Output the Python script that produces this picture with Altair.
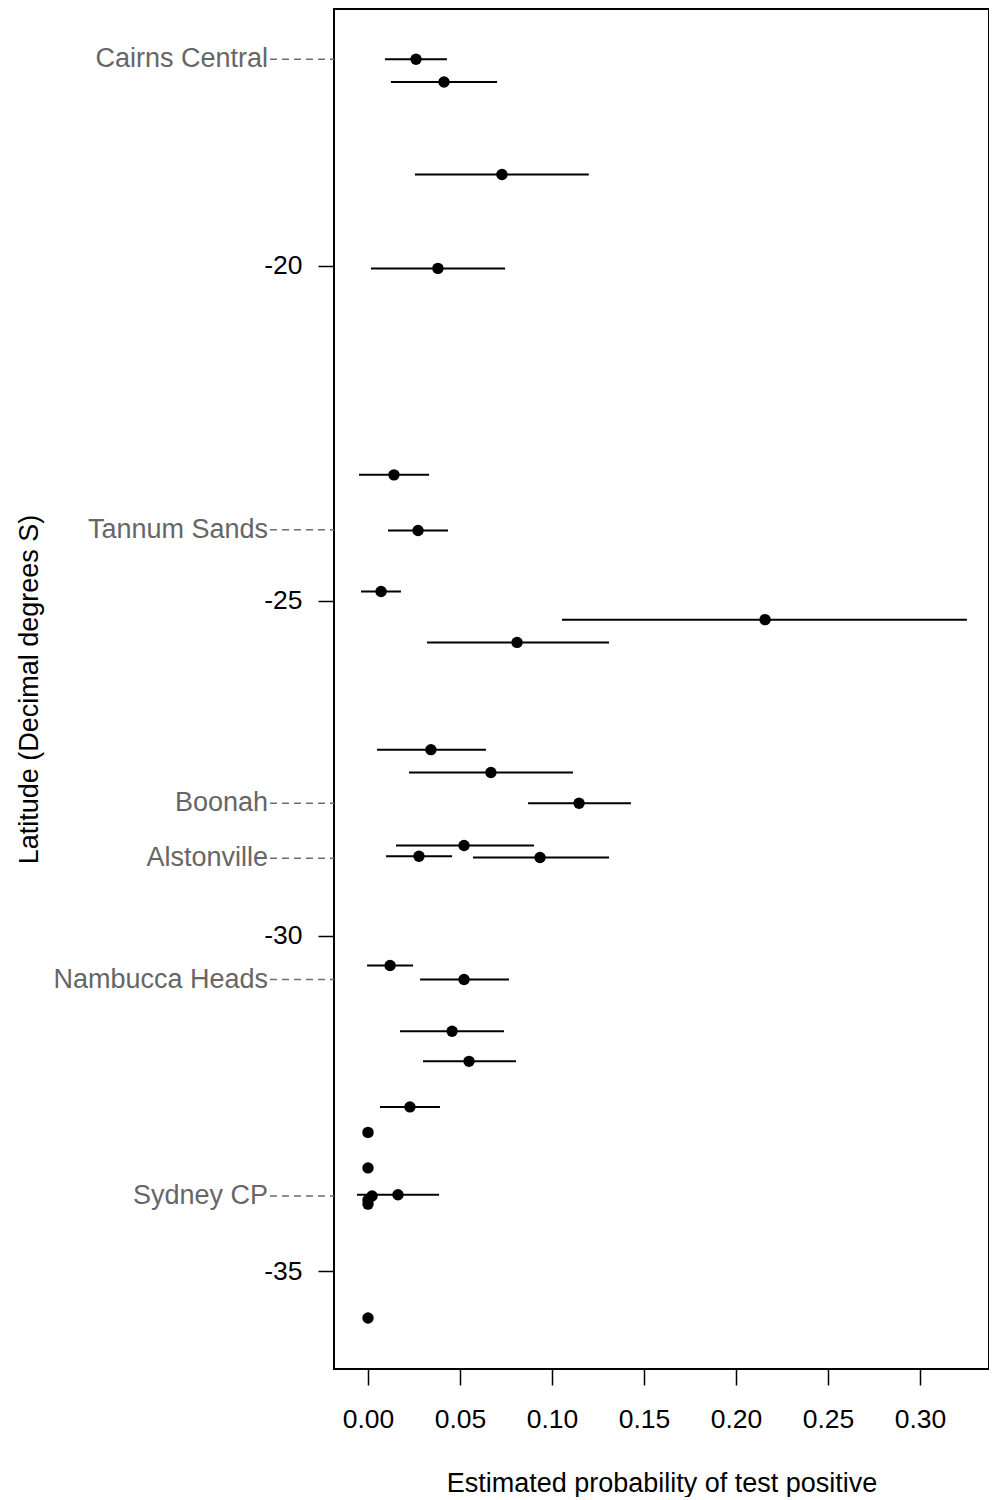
import altair as alt
import pandas as pd

# ---- data ----
lat = [-16.92, -17.26, -18.64, -20.04, -23.12, -23.95, -24.86, -25.28, -25.62,
       -27.22, -27.56, -28.02, -28.65, -28.81, -28.83, -30.44, -30.65, -31.42,
       -31.87, -32.55, -32.93, -33.46, -33.86, -33.88, -33.94, -34.00, -35.70]
prob = [0.0261, 0.0413, 0.0728, 0.0380, 0.0141, 0.0272, 0.0071, 0.2158, 0.0810,
        0.0342, 0.0668, 0.1147, 0.0522, 0.0277, 0.0935, 0.0120, 0.0522, 0.0457,
        0.0549, 0.0228, 0.0, 0.0, 0.0163, 0.0022, 0.0, 0.0, 0.0]
lower = [0.0092, 0.0125, 0.0255, 0.0016, -0.0049, 0.0109, -0.0038, 0.1054, 0.0321,
         0.0049, 0.0223, 0.0870, 0.0152, 0.0098, 0.0571, -0.0005, 0.0283, 0.0174,
         0.0299, 0.0065, None, None, -0.0060, None, None, None, None]
upper = [0.0429, 0.0701, 0.1200, 0.0745, 0.0332, 0.0435, 0.0179, 0.3255, 0.1310,
         0.0641, 0.1114, 0.1429, 0.0902, 0.0457, 0.1310, 0.0245, 0.0766, 0.0739,
         0.0804, 0.0391, None, None, 0.0386, None, None, None, None]

site_names = ["Cairns Central", "Tannum Sands", "Boonah", "Alstonville",
              "Nambucca Heads", "Sydney CP"]
site_lat = [-16.92, -23.94, -28.02, -28.84, -30.65, -33.88]

x_ticks = [0.0, 0.05, 0.10, 0.15, 0.20, 0.25, 0.30]
y_ticks = [-20, -25, -30, -35]

df = pd.DataFrame({"lat": lat, "prob": prob, "lo": lower, "hi": upper})
df_ci = df.dropna(subset=["lo", "hi"])
sites = pd.DataFrame({"name": site_names, "lat": site_lat})

FONT = "Liberation Sans"
W, H = 655, 1360
TICKFS = 26.5
TITLEFS = 27

xscale = alt.Scale(domain=[-0.01848, 0.33750], nice=False, zero=False)
yscale = alt.Scale(domain=[-36.46, -16.17], nice=False, zero=False)

xaxis = alt.Axis(values=x_ticks, format=".2f", title="Estimated probability of test positive",
                 grid=False, domain=False, tickSize=16, tickWidth=1.5, tickColor="black",
                 labelPadding=21, labelFontSize=TICKFS, labelFont=FONT, labelColor="black",
                 titleFontSize=TITLEFS, titleFont=FONT, titleFontWeight="normal", titleColor="black",
                 titleY=122, titleX=W / 2, titleBaseline="alphabetic", titleAlign="center")
yaxis = alt.Axis(values=y_ticks, title="Latitude (Decimal degrees S)",
                 labelExpr="toString(datum.value)",
                 grid=False, domain=False, tickSize=16, tickWidth=1.5, tickColor="black",
                 labelPadding=16, labelFontSize=TICKFS, labelFont=FONT, labelColor="black",
                 labelBaseline="middle",
                 titleFontSize=TITLEFS, titleFont=FONT, titleFontWeight="normal", titleColor="black",
                 titleAngle=270, titleX=-305, titleY=H / 2, titleBaseline="middle",
                 titleAlign="center")

ci = alt.Chart(df_ci).mark_rule(color="black", strokeWidth=2).encode(
    x=alt.X("lo:Q", scale=xscale, axis=xaxis),
    x2="hi:Q",
    y=alt.Y("lat:Q", scale=yscale, axis=yaxis),
)

pts = alt.Chart(df).mark_circle(color="black", opacity=1, size=130).encode(
    x=alt.X("prob:Q", scale=xscale, axis=xaxis),
    y=alt.Y("lat:Q", scale=yscale, axis=yaxis),
)

dash = alt.Chart(sites).mark_rule(color="#6e6e6e", strokeWidth=1.5, strokeDash=[7, 5]).encode(
    x=alt.value(-64),
    x2=alt.value(0),
    y=alt.Y("lat:Q", scale=yscale, axis=yaxis),
)

labels = alt.Chart(sites).mark_text(align="right", baseline="middle", fontSize=TITLEFS,
                                     font=FONT, color="#666666").encode(
    x=alt.value(-66),
    y=alt.Y("lat:Q", scale=yscale, axis=yaxis),
    text="name:N",
)

chart = alt.layer(ci, pts, dash, labels).properties(
    width=W, height=H,
    autosize=alt.AutoSizeParams(type="none"),
    padding={"left": 326, "top": 1, "right": 0, "bottom": 128},
    background="white",
).configure_view(stroke="black", strokeWidth=2)

chart.save("out.html", embed_options={"renderer": "svg", "actions": False})
